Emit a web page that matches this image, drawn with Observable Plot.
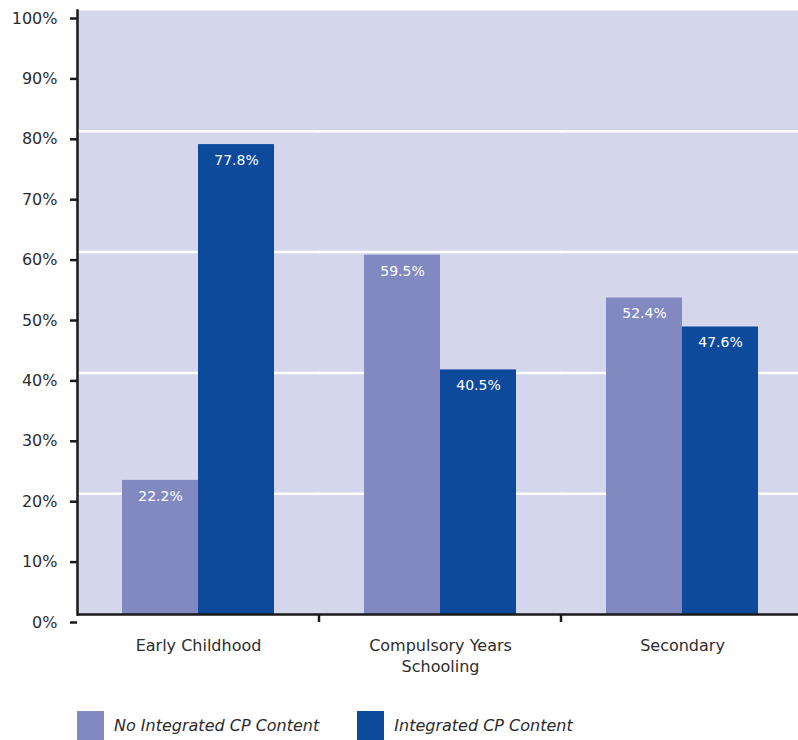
<!DOCTYPE html>
<html>
<head>
<meta charset="utf-8">
<script src="https://cdn.jsdelivr.net/npm/d3@7"></script>
<script src="https://cdn.jsdelivr.net/npm/@observablehq/plot@0.6"></script>
<style>
  html, body { margin: 0; padding: 0; background: #fff; overflow: hidden; }
  #chart { font-family: "DejaVu Sans", sans-serif; }
  .legend { display: flex; align-items: center; margin-top: 11px; margin-left: 77px;
            font-family: "DejaVu Sans", sans-serif; font-style: italic;
            font-size: 16px; color: #2b2b2b; }
  .legend .item { display: flex; align-items: center; margin-right: 38px; }
  .legend .swatch { width: 27px; height: 29px; margin-right: 10px; }
</style>
</head>
<body>
<div id="chart"></div>
<script>
// School stages along the bottom axis
const categories = ["Early Childhood", "Compulsory Years Schooling", "Secondary"];
const categoryLabels = ["Early Childhood", "Compulsory Years\nSchooling", "Secondary"];

// Two series per stage
const seriesNames = ["No Integrated CP Content", "Integrated CP Content"];
const seriesColors = ["#8189c0", "#0d4a9c"];

// Percentages per stage, one array per series
const noIntegrated = [22.2, 59.5, 52.4];
const integrated = [77.8, 40.5, 47.6];

// Y axis ticks and gridlines
const yTicks = [0, 10, 20, 30, 40, 50, 60, 70, 80, 90, 100];
const gridTicks = [20, 40, 60, 80];

const rows = [];
categories.forEach((c, i) => {
  rows.push({stage: c, series: seriesNames[0], value: noIntegrated[i]});
  rows.push({stage: c, series: seriesNames[1], value: integrated[i]});
});

const axisColor = "#1a1a1a";
const textColor = "#2d2d2d";

const plot = Plot.plot({
  width: 798,
  height: 700,
  marginLeft: 77,
  marginRight: -5,
  marginTop: 10,
  marginBottom: 86,
  style: {fontFamily: "'DejaVu Sans', sans-serif", color: textColor, background: "#fff"},
  fx: {domain: categories, padding: 0, label: null},
  x: {domain: seriesNames, paddingInner: 0, paddingOuter: 0.592, align: 0.5, axis: null},
  y: {domain: [0, 100], label: null},
  color: {domain: seriesNames, range: seriesColors},
  marks: [
    // Panel background, overlapped slightly so adjacent stages join seamlessly
    Plot.frame({fill: "#d4d6ec", stroke: null, insetLeft: -1, insetRight: -1}),
    Plot.gridY(gridTicks, {stroke: "#fff", strokeOpacity: 1, strokeWidth: 2.5, insetLeft: -1, insetRight: -1}),
    Plot.barY(rows, {fx: "stage", x: "series", y: "value", fill: "series"}),
    Plot.text(rows, {
      fx: "stage", x: "series", y: "value",
      text: d => d.value.toFixed(1) + "%",
      fill: "#fff", fontSize: 14, dy: 16
    }),
    Plot.ruleY([0], {stroke: axisColor, strokeWidth: 2.5}),
    Plot.frame({anchor: "left", facetAnchor: "left", stroke: axisColor, strokeWidth: 2.5}),
    // Small downward ticks on the boundaries between stages
    Plot.ruleY(categories.slice(1), {
      fx: d => d, y: () => 0,
      render(index, scales, values, dimensions) {
        const ys = values.y ?? (values.channels && values.channels.y);
        const g = d3.create("svg:g");
        for (const i of index) {
          const y0 = ys ? ys[i] : dimensions.height - dimensions.marginBottom;
          g.append("line")
            .attr("x1", dimensions.marginLeft).attr("x2", dimensions.marginLeft)
            .attr("y1", y0).attr("y2", y0 + 8)
            .attr("stroke", axisColor).attr("stroke-width", 2.5);
        }
        return g.node();
      }
    }),
    Plot.axisY(yTicks, {
      tickFormat: d => d + "%", tickSize: 7, tickPadding: 13, dy: 8,
      fontSize: 16, stroke: axisColor, strokeWidth: 2.5, label: null
    }),
    Plot.axisFx({
      anchor: "bottom", tickSize: 0, tickPadding: 21, fontSize: 16, lineHeight: 1.35,
      tickFormat: d => categoryLabels[categories.indexOf(d)], label: null
    })
  ]
});

document.getElementById("chart").appendChild(plot);

// Legend built from the same series names and colours
const legend = d3.select("body").append("div").attr("class", "legend");
seriesNames.forEach((name, i) => {
  const item = legend.append("div").attr("class", "item");
  item.append("div").attr("class", "swatch").style("background", seriesColors[i]);
  item.append("span").text(name);
});
</script>
</body>
</html>
